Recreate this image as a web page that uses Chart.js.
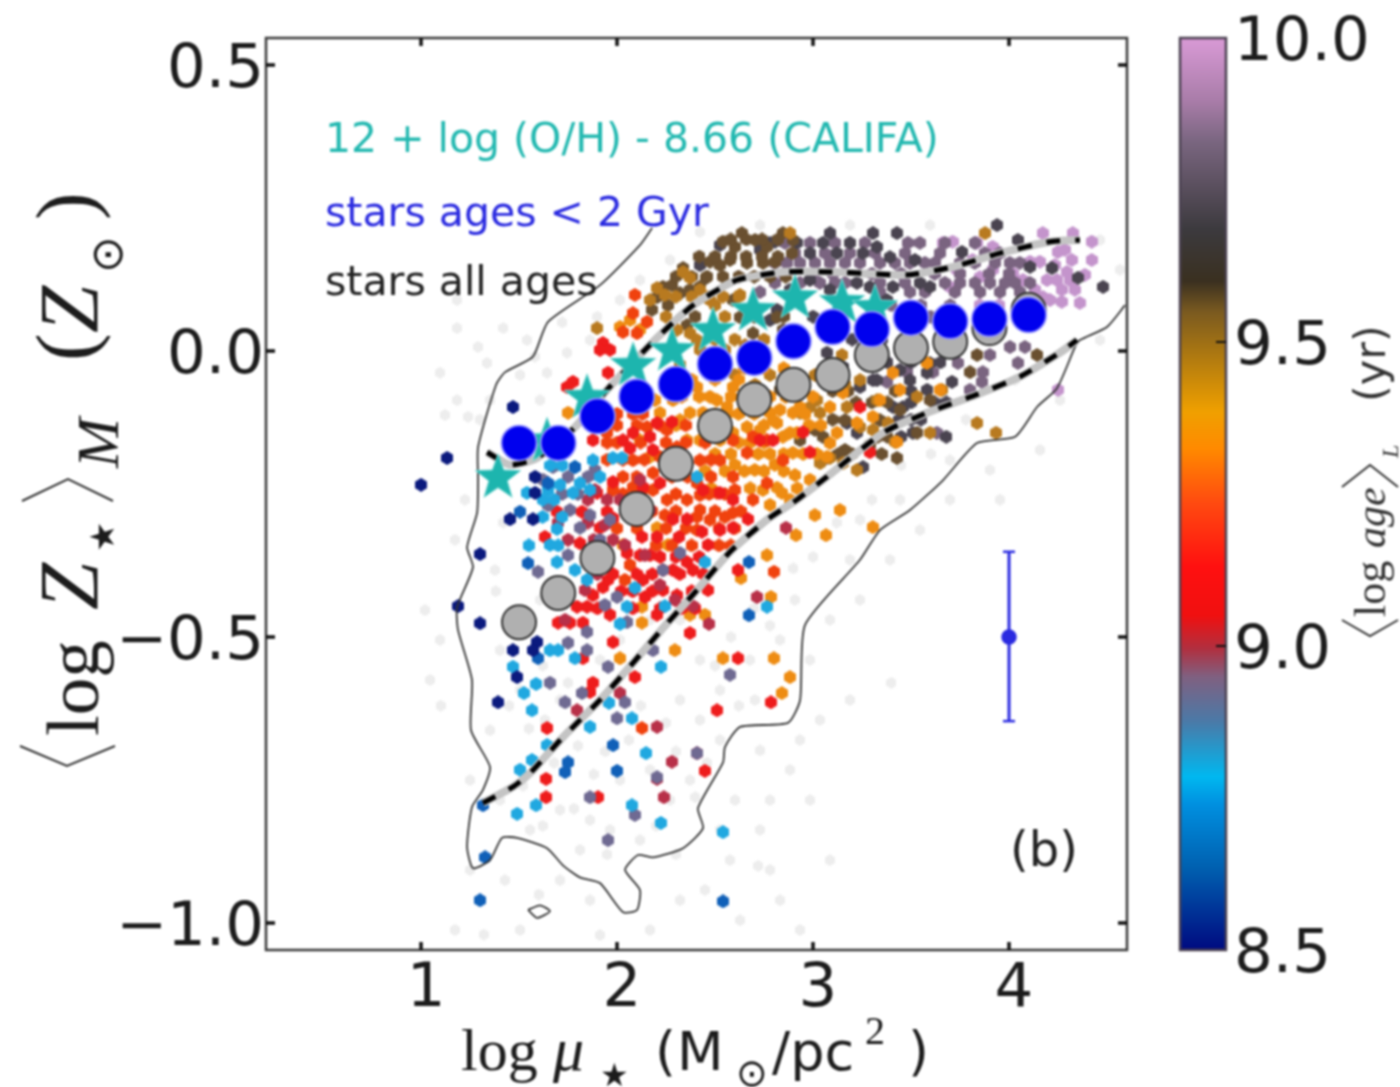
<!DOCTYPE html>
<html><head><meta charset="utf-8">
<style>html,body{margin:0;padding:0;background:#fff}canvas{display:block;filter:blur(0.8px)}</style>
<script src="https://cdn.jsdelivr.net/npm/chart.js@4"></script>
</head><body><canvas id="c" width="1400" height="1087"></canvas>
<script>
const xTicks=[1,2,3,4];
const yTicks=[-1,-0.5,0,0.5];
const ageTicks=[8.5,9,9.5,10];
const ageStops=[10,9.895,9.83,9.685,9.6,9.55,9.475,9.385,9.325,9.235,9.13,9.05,8.995,8.95,8.875,8.785,8.74,8.635,8.5];
const ageStopColors=['#d99ad6','#a87ca8','#7a6680','#3c3a3e','#3a3020','#7a5a20','#b07a10','#f0a000','#ff8a00','#ff4a10','#ff1010','#f01010','#b03040','#806080','#4a7aa8','#00b8f0','#0090e0','#0060b0','#000a80'];

const contourOuter=[[2.179,.215],[2.117,.185],[1.913,.115],[1.648,.051],[1.571,-.01],[1.429,-.037],[1.383,-.059],[1.291,-.168],[1.291,-.226],[1.286,-.283],[1.235,-.343],[1.265,-.378],[1.184,-.448],[1.189,-.488],[1.26,-.575],[1.255,-.663],[1.352,-.727],[1.316,-.767],[1.26,-.797],[1.235,-.867],[1.265,-.904],[1.352,-.89],[1.413,-.851],[1.49,-.851],[1.643,-.869],[1.724,-.899],[1.811,-.92],[1.913,-.93],[2.031,-.981],[2.102,-.977],[2.117,-.942],[2.041,-.907],[2.107,-.881],[2.184,-.885],[2.337,-.869],[2.439,-.834],[2.413,-.799],[2.541,-.719],[2.551,-.692],[2.628,-.657],[2.872,-.65],[2.934,-.61],[2.959,-.479],[3.24,-.365],[3.342,-.313],[3.495,-.278],[3.663,-.226],[3.837,-.161],[4.031,-.15],[4.143,-.098],[4.245,-.065],[4.337,.007],[4.362,.019],[4.5,.042],[4.592,.08]];
const contourIsland=[[1.546,-.977],[1.607,-.969],[1.658,-.979],[1.592,-.991],[1.546,-.977]];
const upperRunning=[[1.337,-.177],[1.454,-.199],[1.592,-.187],[1.786,-.133],[1.949,-.068],[2.031,-.038],[2.204,.023],[2.388,.08],[2.612,.124],[2.847,.138],[3.102,.138],[3.48,.133],[3.714,.147],[3.954,.171],[4.209,.191],[4.362,.194]];
const lowerRunning=[[1.316,-.79],[1.469,-.762],[1.556,-.738],[1.724,-.675],[1.913,-.61],[2.082,-.545],[2.235,-.484],[2.408,-.418],[2.577,-.351],[2.765,-.295],[2.918,-.26],[3.071,-.22],[3.357,-.143],[3.582,-.108],[3.837,-.076],[4.056,-.045],[4.26,-.003],[4.347,.019]];
const binX=[1.5,1.7,1.9,2.1,2.3,2.5,2.7,2.9,3.1,3.3,3.5,3.7,3.9,4.1];
const youngZ=[-.161,-.161,-.114,-.08,-.058,-.023,-.012,.017,.042,.038,.058,.052,.056,.063];
const allAgesZ=[-.474,-.423,-.362,-.276,-.197,-.131,-.085,-.059,-.042,-.007,.005,.016,.04,.072];
const califaX=[1.393,1.643,1.847,2.082,2.281,2.49,2.694,2.908,3.148,3.316];
const califaZ=[-.22,-.156,-.08,-.024,.002,.037,.072,.094,.086,.077];
const errorX=[4,4,4];
const errorY=[-.351,-.5,-.647];

const greyPts=[[1.184,.089],[1.184,.04],[1.291,.007],[1.097,-.038],[1.184,-.086],[1.24,-.115],[1.337,-.021],[1.541,.019],[1.745,-.003],[1.643,-.038],[1.352,-.086],[1.607,-.086],[1.505,-.042],[1.122,-.112],[1.046,-.575],[1.097,-.505],[1.173,-.33],[1.224,-.26],[1.02,-.453],[1.403,-.523],[1.377,-.383],[1.505,-.593],[1.352,-.663],[1.632,-.645],[1.25,-.75],[1.403,-.785],[1.556,-.837],[1.709,-.802],[1.862,-.82],[1.811,-.872],[1.964,-.837],[2.117,-.855],[2.27,-.785],[2.372,-.75],[2.525,-.68],[2.703,-.61],[2.83,-.505],[2.907,-.435],[2.678,-.54],[2.423,-.54],[2.321,-.61],[2.168,-.47],[2.015,-.505],[1.607,-.435],[1.709,-.61],[1.913,-.54],[2.015,-.75],[2.168,-.732],[2.423,-.645],[2.525,-.593],[1.25,-.907],[1.428,-.925],[1.173,-1.012],[1.505,-1.012],[1.709,-.925],[1.862,-.96],[1.913,-1.021],[2.168,-1.012],[2.321,-.96],[2.448,-.942],[2.576,-.89],[2.729,-.837],[2.78,-.785],[2.882,-.732],[2.933,-.68],[3.035,-.645],[3.188,-.61],[2.984,-.54],[3.086,-.47],[3.239,-.435],[3.392,-.365],[3.545,-.313],[3.698,-.26],[3.902,-.208],[3.954,-.26],[4.158,-.173],[4.26,-.086],[4.464,.019],[4.03,-.051],[3.698,-.191],[3.444,-.26],[3.24,-.295],[3.188,-.365],[2.832,-.96],[2.628,-.995],[2.934,-1.012],[3.086,-.89],[2.985,-.785],[2.781,-.907],[2.423,.208],[2.73,.22],[3.189,.22],[3.597,.22],[4.464,.194],[4.566,.142],[2.27,.159],[2.117,.124],[1.862,.019],[2.015,.089],[2.602,-.785],[2.73,-.698],[2.321,-.47],[2.525,-.837],
[1.45,-.62],[1.55,-.66],[1.62,-.55],[1.75,-.58],[1.68,-.72],[1.8,-.69],[1.88,-.74],[1.94,-.7],[2.06,-.68],[2.12,-.62],[2.25,-.65],[2.3,-.7],[2.46,-.72],[2.4,-.78],[2.5,-.55],[2.58,-.5],[2.62,-.62],[2.78,-.48],[2.7,-.45],[2.9,-.38],[3.0,-.36],[3.12,-.3],[3.3,-.26],[3.45,-.2],[3.6,-.18],[3.78,-.12],[1.52,-.76],[1.62,-.83],[1.78,-.8],[1.95,-.88],[2.2,-.83],[2.3,-.88],[1.38,-.42],[1.3,-.12],[1.42,-.3],[1.1,-.62],[1.9,.06],[1.72,.05],[1.42,.04],[1.58,-.01],[3.4,-.58],[2.72,-.9],[1.32,-1.02],[1.6,-.95]];
const navyPts=[[1,-.234],[1.133,-.187],[1.469,-.098],[1.582,-.22],[1.582,-.248],[1.454,-.294],[1.571,-.294],[1.301,-.355],[1.189,-.446],[1.301,-.476],[1.469,-.523],[1.49,-.57],[1.393,-.614],[1.592,-.509],[1.571,-.523]];
const bluePts=[[1.505,-.281],[1.546,-.371],[1.597,-.537],[1.75,-.719],[1.735,-.736],[2,-.734],[1.98,-.689],[1.316,-.794],[1.327,-.885],[1.301,-.96],[2.541,-.962],[2.673,-.369],[2.673,-.462],[1.785,-.203],[1.648,-.231]];
const cyanPts=[[1.54,-.248],[1.71,-.234],[1.785,-.203],[1.877,-.191],[1.913,-.22],[1.811,-.231],[1.862,-.243],[1.979,-.187],[2.025,-.187],[2.408,-.22],[1.648,-.243],[1.775,-.248],[1.694,-.311],[1.658,-.339],[1.694,-.369],[1.785,-.383],[1.847,-.4],[2.091,-.414],[2.244,-.446],[2.051,-.447],[2.015,-.477],[1.658,-.523],[1.699,-.523],[1.785,-.537],[1.469,-.552],[1.587,-.582],[1.525,-.598],[1.566,-.628],[1.959,-.615],[2.076,-.642],[1.862,-.657],[2.148,-.703],[2.224,-.552],[2.449,-.369],[2.765,-.447],[1.505,-.732],[1.566,-.715],[1.643,-.689],[1.49,-.809],[1.587,-.794],[2.224,-.825],[2.076,-.794],[2.541,-.841],[1.72,-.2],[1.66,-.2],[1.62,-.26],[1.68,-.26],[1.62,-.29],[1.72,-.29],[1.55,-.34],[1.7,-.34]];
const slatePts=[[1.597,-.386],[1.75,-.357],[1.735,-.614],[1.658,-.58],[1.847,-.491],[1.75,-.51],[1.847,-.523],[1.954,-.552],[2,-.43],[1.938,-.444],[2.051,-.474],[2.234,-.383],[2.321,-.353],[2.204,-.745],[1.821,-.598],[2.04,-.614],[2,-.642],[2.183,-.523],[2.408,-.703],[2.576,-.566],[2.091,-.811],[1.954,-.855],[1.862,-.78],[1.673,-.203],[1.622,-.225],[1.887,-.208],[1.76,-.278],[1.862,-.287],[1.964,-.295],[1.913,-.33],[1.811,-.309],[1.75,-.22],[1.85,-.22],[1.72,-.25],[1.8,-.25],[1.65,-.27]];
const crimsonPts=[[2.862,-.309],[2.714,-.43],[2.469,-.477],[2.387,-.446],[1.796,-.628],[2.204,-.657],[2.408,-.703],[2.28,-.718],[2.015,-.598],[2.239,-.78],[2.204,-.748],[1.735,-.47],[1.836,-.418],[1.938,-.304],[2.04,-.339],[2.142,-.357],[2.219,-.409],[2.295,-.435],[1.887,-.243],[2.117,-.225],[2.015,-.26],[2.168,-.278],[1.85,-.26],[1.95,-.26],[1.7,-.3],[1.85,-.3],[1.75,-.33],[1.88,-.33],[1.98,-.33],[1.85,-.36],[1.9,-.39]];
const redPts=[[1.699,-.475],[1.76,-.475],[1.826,-.475],[1.979,-.509],[1.826,-.537],[1.877,-.58],[1.862,-.596],[2.091,-.57],[1.643,-.659],[2.51,-.628],[2.617,-.537],[2.785,-.614],[2.372,-.493],[2.204,-.461],[2.142,-.43],[1.964,-.461],[1.796,-.447],[1.847,-.447],[1.877,-.427],[1.928,-.413],[1.954,-.4],[2.132,-.4],[2.234,-.383],[2.285,-.383],[2.357,-.369],[2.387,-.383],[2.306,-.427],[2.234,-.418],[2.464,-.418],[2.051,-.353],[2.117,-.357],[2.168,-.357],[2.127,-.325],[2.204,-.325],[2.316,-.325],[1.913,-.309],[1.949,-.281],[1.694,-.281],[1.821,-.281],[1.632,-.325],[1.811,-.336],[2.617,-.383],[2.433,-.316],[2.464,-.339],[2.525,-.313],[2.285,-.294],[2.357,-.294],[2.668,-.294],[2.591,-.309],[2.591,-.26],[1.979,-.292],[1.898,-.248],[1.638,-.748],[1.638,-.78],[1.903,-.78],[2.448,-.734],[1.928,.014],[1.913,.002],[1.964,.002],[1.775,-.054],[1.745,-.063],[1.954,-.038],[1.877,-.156],[2.03,-.156],[2.081,-.143],[2.204,-.126],[2.28,-.124],[2.168,-.15],[2.183,-.173],[2.066,-.17],[1.979,-.229],[2.219,-.231],[2.132,-.238],[2.438,-.243],[2.525,-.248],[2.729,-.156],[2.795,-.156],[2.948,-.142],[2.984,-.177],[3.29,-.177],[3.239,-.098],[1.95,-.36],[2.22,-.36],[2.3,-.36],[2.42,-.36],[1.98,-.39],[2.1,-.39],[2.18,-.39],[2.32,-.39],[2.44,-.39],[2.02,-.42],[2.08,-.42],[2.18,-.42],[2.38,-.42],[1.9,-.45],[2.08,-.45],[2.22,-.45],[2.33,-.45],[2.4,-.45]];
const redOrangePts=[[2.04,-.4],[2.066,-.374],[2.127,-.659],[2.408,-.29],[2.408,-.313],[2.474,-.295],[2.55,-.29],[2.591,-.283],[2.693,-.26],[2.51,-.248],[2.357,-.26],[2.423,-.252],[2.255,-.26],[2.183,-.243],[2.081,-.238],[1.979,-.243],[2.801,-.386],[2.081,.066],[2.03,.033],[2.102,.031],[2.153,.051],[2.091,.098],[2.081,-.191],[2.153,-.133],[2.255,-.138],[2.306,-.168],[2.219,-.185],[1.949,-.143],[2.423,-.191],[2.591,-.156],[2.693,-.15],[2.765,-.156],[2.525,-.191],[2.663,-.178],[2.846,-.191],[2.408,-.231],[2.591,-.22],[2.765,-.231],[2.321,-.213],[2.183,-.213],[2.117,-.269],[2.244,-.287],[2.423,-.278],[2.602,-.243],[2,-.11],[2.08,-.11],[2.13,-.11],[2,-.13],[2.1,-.13],[2.22,-.13],[2.35,-.13],[1.95,-.16],[2,-.16],[2.12,-.16],[2.25,-.16],[2.35,-.16],[2.45,-.16],[1.95,-.19],[2.03,-.19],[2.14,-.19],[2.27,-.19],[2.35,-.19],[2.48,-.19],[2.03,-.22],[2.1,-.22],[2.28,-.22],[2.36,-.22],[2.48,-.22],[2.03,-.25],[2.12,-.25],[2.3,-.25],[2.47,-.25],[2.55,-.25],[2.08,-.28],[2.18,-.28],[2.3,-.28],[2.5,-.28],[2.63,-.28],[2,-.31],[2.1,-.31],[2.25,-.31],[2.35,-.31],[2.52,-.31],[2.6,-.31],[2.2,-.34],[2.28,-.34],[2.38,-.34],[2.52,-.34],[2.58,-.34]];
const orangePts=[[2.408,-.063],[2.474,-.08],[2.591,-.063],[2.51,-.086],[2.561,-.098],[2.78,-.108],[2.897,-.108],[2.816,-.126],[2.663,-.133],[2.591,-.143],[2.729,-.138],[2.372,-.108],[2.438,-.108],[2.525,-.156],[2.846,-.15],[2.918,-.143],[2.168,-.185],[2.357,-.156],[2.423,-.156],[2.285,-.086],[2.219,-.108],[1.75,-.108],[2.066,.054],[2.015,.042],[2.117,.037],[2.831,-.103],[2.795,-.121],[2.882,-.143],[3.122,-.143],[3.086,-.161],[3.071,-.185],[3.443,-.068],[3.647,-.068],[3.428,-.159],[3.581,-.021],[3.407,-.038],[3.341,-.086],[3.305,-.115],[3.224,-.126],[2.999,-.08],[2.933,-.098],[3.153,-.073],[3.086,-.098],[2.897,-.178],[2.765,-.357],[2.632,-.397],[2.54,-.537],[2.8,-.537],[2.882,-.57],[2.841,-.598],[2.295,-.523],[2.127,-.475],[2.015,-.537],[2.448,-.461],[2.372,-.461],[2.785,-.43],[2.26,-.339],[2.204,-.309],[2.03,-.339],[2.127,-.447],[2.816,-.239],[2.841,-.248],[2.744,-.243],[3.305,-.308],[2.913,-.322],[3.066,-.322],[3.009,-.287],[3.137,-.278],[2.65,-.086],[2.703,-.208],[2.805,-.199],[2.908,-.217],[2.984,-.225],[2.882,-.26],[2.78,-.269],[2.321,-.121],[2.117,-.156],[2.194,-.086],[2.601,-.199],[2.45,-.03],[2.53,-.03],[2.65,-.03],[2.75,-.03],[2.85,-.03],[2.38,-.05],[2.5,-.05],[2.62,-.05],[2.33,-.08],[2.42,-.08],[2.58,-.08],[2.7,-.08],[2.78,-.08],[2.86,-.08],[2.5,-.11],[2.56,-.11],[2.62,-.11],[2.7,-.11],[2.96,-.11],[2.3,-.13],[2.45,-.13],[2.55,-.13],[2.75,-.13],[2.98,-.13],[3.04,-.13],[2.62,-.16],[2.68,-.16],[2.75,-.16],[2.5,-.18],[2.58,-.18],[2.72,-.18],[2.78,-.18],[2.85,-.18],[2.95,-.18],[3.02,-.18],[2.45,-.21],[2.55,-.21],[2.65,-.21],[2.75,-.21],[2.85,-.21],[2.48,-.24],[2.68,-.24],[2.92,-.24]];
const ochrePts=[[1.898,.04],[2.204,.11],[2.337,.138],[2.372,.128],[2.306,.037],[2.372,.031],[2.408,.019],[2.168,.089],[2.244,.098],[2.423,.107],[2.474,.089],[2.883,.206],[3.878,.206],[3.837,-.126],[3.934,-.143],[3.658,-.068],[3.531,-.08],[3.327,-.086],[3.036,-.108],[3.173,-.098],[3.24,-.133],[3.306,-.138],[3.383,-.126],[3.597,-.143],[3.418,-.159],[3.148,-.007],[3.02,-.086],[2.934,-.108],[2.985,-.098],[3.036,-.196],[3.086,-.187],[3.224,-.208],[3.153,-.196],[2.551,.002],[2.653,.01],[2.78,-.042],[2.856,-.051],[2.601,-.042],[2.704,-.059],[2.423,.002],[2.321,-.024],[2.5,.08],[2.627,.098],[2.934,-.059],[3.01,-.042],[3.24,-.051],[3.163,-.059],[2.3,.095],[2.38,.095],[2.46,.095],[2.54,.095],[2.62,.095],[2.25,.06],[2.55,.06],[2.5,.02],[2.6,.02],[2.75,.02]];
const brownPts=[[2.234,.112],[2.337,.145],[2.474,.156],[2.54,.191],[2.637,.206],[2.576,.159],[2.663,.154],[2.423,.112],[2.321,.101],[2.204,.094],[2.357,.045],[2.591,.089],[2.627,.059],[2.816,.059],[2.846,.037],[2.694,.031],[2.846,.206],[2.765,.182],[2.898,.194],[2.745,.154],[2.893,.171],[2.525,.15],[2.602,.182],[2.704,.194],[2.806,.156],[2.281,.115],[2.372,.107],[2.454,.128],[2.178,.072],[2.26,.08],[3.837,-.007],[3.801,-.037],[4.143,-.007],[3.428,-.187],[3.531,-.143],[2.934,-.156],[3.01,-.138],[3.291,-.164],[3.163,-.173],[2.832,-.068],[3.163,-.121],[3.443,-.103],[3.342,-.121],[3.597,-.086],[2.3,.13],[2.38,.13],[2.46,.13],[2.54,.13],[2.62,.13],[2.7,.13],[2.78,.13],[2.86,.13],[2.42,.165],[2.5,.165],[2.58,.165],[2.66,.165],[2.74,.165],[2.82,.165],[2.58,.195],[2.66,.195],[2.74,.195],[2.82,.195],[2.4,.06],[2.7,.06],[2.85,.06],[2.95,.02],[3.1,-.07],[3.18,-.07],[3.42,-.07],[3.22,-.09],[3.3,-.09],[3.38,-.09],[3.1,-.12],[3.05,-.15],[3.33,-.15],[3.38,-.15],[3.13,-.18],[3.2,-.18],[3.35,-.18]];
const charcoalPts=[[3.939,.22],[3.306,.206],[3.087,.206],[2.806,.191],[3.52,.159],[3.76,.173],[4.107,.147],[4.219,.145],[4.48,.112],[4.352,.128],[3.709,-.054],[3.582,-.068],[3.459,-.098],[3.408,-.098],[3.596,-.021],[3.306,-.051],[3.24,-.063],[3.173,-.126],[3.224,-.143],[3.509,-.143],[3.255,-.203],[3.071,-.187],[4.045,.194],[2.78,.189],[2.918,.189],[2.985,.171],[3.05,.189],[3.122,.171],[3.188,.189],[3.254,.171],[3.326,.182],[3.392,.164],[3.428,.206],[2.816,.072],[2.78,.054],[3.224,.119],[3.29,.112],[3.407,.112],[3.545,.119],[3.596,.112],[3.377,.089],[3.071,-.003],[3.153,-.028],[3.326,-.051],[3.443,-.033],[3.494,-.051],[3.581,-.038],[2.729,.177],[2.525,.185],[2.423,.15],[2.882,.107],[2.984,.124],[3.086,.107],[3,.06],[3.15,.06],[3.3,.06],[3.2,.02],[3.35,.02],[3.3,-.02],[3.38,-.02],[3.5,-.02],[3.65,-.02],[3.5,-.07],[3.5,-.09],[3.62,-.09],[3.68,-.09],[3.44,-.12],[3.5,-.12],[3.55,-.12],[3.45,-.15],[3.68,-.15]];
const mauvePts=[[2.856,.189],[2.984,.189],[3.112,.189],[3.264,.189],[3.484,.189],[3.545,.189],[3.673,.189],[3.825,.189],[2.908,.171],[3.06,.171],[3.188,.171],[3.316,.171],[3.469,.171],[3.647,.171],[3.876,.171],[3.953,.171],[2.805,.154],[2.867,.154],[2.933,.154],[3.01,.154],[3.086,.154],[3.163,.154],[3.239,.154],[3.341,.154],[3.418,.154],[3.494,.154],[3.571,.154],[3.622,.154],[3.749,.154],[3.825,.154],[3.928,.154],[4.004,.154],[4.055,.154],[2.805,.119],[2.933,.119],[3.035,.119],[3.112,.119],[3.163,.119],[3.341,.119],[3.469,.119],[3.673,.119],[3.749,.119],[3.825,.119],[3.902,.119],[3.98,.119],[4.03,.119],[4.107,.119],[3.724,.103],[3.852,.103],[3.954,.103],[4.056,.103],[3.494,.103],[3.571,.103],[3.341,.103],[2.729,.103],[4.005,.007],[4.081,.007],[4.045,-.021],[3.902,-.007],[3.739,-.021],[3.611,-.037],[3.866,-.037],[3.861,-.054],[3.8,-.068],[3.377,-.054],[3.479,-.037],[3.632,-.143],[2.85,.135],[3,.135],[3.1,.135],[3.3,.135],[3.45,.135],[3.62,.135],[3.75,.135],[3.9,.135],[4,.135],[3.45,.06],[3.6,.06],[3.75,.06],[3.4,.08],[3.55,.08],[3.7,.08]];
const lilacPts=[[4.172,.206],[4.325,.206],[4.422,.191],[4.422,.159],[4.249,.173],[4.32,.159],[4.295,.138],[4.244,.124],[4.31,.124],[4.269,.107],[4.269,.086],[4.361,.084],[3.835,.189],[3.661,.189],[3.712,.191],[3.814,.159],[3.916,.182],[4.019,.136],[4.071,.124],[4.194,.124],[4.173,.094],[3.917,.142],[3.851,.129],[3.733,.142],[3.698,.112],[4.25,-.068],[4.107,.156],[4.157,.156],[4.234,.15],[4.133,.107],[4.209,.089],[4.336,.107],[4.387,.133],[4.284,.177],[3.85,.08],[3.95,.08],[4.1,.08]];

const toXY=a=>a.map(p=>({x:p[0],y:p[1]}));
const zipXY=(xs,ys)=>xs.map((x,i)=>({x,y:ys[i]}));
function marker(color,w,h){const c=document.createElement('canvas');c.width=w;c.height=h;const g=c.getContext('2d');
 g.beginPath();g.moveTo(w/2,0);g.lineTo(w,h*.27);g.lineTo(w,h*.73);g.lineTo(w/2,h);g.lineTo(0,h*.73);g.lineTo(0,h*.27);g.closePath();g.fillStyle=color;g.fill();return c;}
const hex=(data,color,order,w,h)=>({data:toXY(data),pointStyle:marker(color,w||12,h||14),pointRadius:6,pointHoverRadius:6,order});
const line=(data,color,width,dash,order)=>({data:toXY(data),showLine:true,pointRadius:0,borderColor:color,borderWidth:width,borderDash:dash||[],fill:false,tension:0.2,order});

const starImg=document.createElement('canvas');starImg.width=starImg.height=50;
(function(){const g=starImg.getContext('2d');g.beginPath();
for(let i=0;i<10;i++){const r=i%2?9.8:24,a=-Math.PI/2+i*Math.PI/5;g.lineTo(25+r*Math.cos(a),26+r*Math.sin(a));}
g.closePath();g.fillStyle='#1db5ae';g.fill();g.strokeStyle='#7fd8d4';g.lineWidth=1;g.stroke();})();

const INK='#1c1c1c';
function angle(ctx,a,b,c){ctx.beginPath();ctx.moveTo(a[0],a[1]);ctx.lineTo(b[0],b[1]);ctx.lineTo(c[0],c[1]);ctx.strokeStyle='#333';ctx.lineWidth=2;ctx.stroke();}
function vtext(ctx,t,font,x,y){ctx.save();ctx.translate(x,y);ctx.rotate(-Math.PI/2);ctx.font=font;ctx.textAlign='left';ctx.textBaseline='alphabetic';ctx.fillText(t,0,0);ctx.restore();}
function htext(ctx,t,font,x,y){ctx.font=font;ctx.textAlign='left';ctx.textBaseline='alphabetic';ctx.fillText(t,x,y);}

const decor={id:'decor',
 beforeDraw(chart){
  const ctx=chart.ctx,age=chart.scales.age;
  const g=ctx.createLinearGradient(0,age.getPixelForValue(10),0,age.getPixelForValue(8.5));
  ageStops.forEach((v,i)=>g.addColorStop((10-v)/1.5,ageStopColors[i]));
  const top=age.getPixelForValue(10),bot=age.getPixelForValue(8.5);
  ctx.fillStyle=g;ctx.fillRect(1180,top,46,bot-top);
  ctx.strokeStyle='#4a4050';ctx.lineWidth=2.5;ctx.strokeRect(1180,top,46,bot-top);
  ctx.strokeStyle='#111';ctx.lineWidth=2;
  ageTicks.slice(1,3).forEach(v=>{const y=age.getPixelForValue(v);ctx.beginPath();ctx.moveTo(1216,y);ctx.lineTo(1226,y);ctx.stroke();});
 },
 afterDraw(chart){
  const ctx=chart.ctx,a=chart.chartArea,sx=chart.scales.x,sy=chart.scales.y;
  ctx.save();
  ctx.strokeStyle='#3a3a3a';ctx.lineWidth=2.5;ctx.strokeRect(a.left,a.top,a.right-a.left,a.bottom-a.top);
  ctx.strokeStyle='#111';ctx.lineWidth=3.5;ctx.beginPath();
  xTicks.forEach(v=>{const x=sx.getPixelForValue(v);ctx.moveTo(x,a.top);ctx.lineTo(x,a.top+8);ctx.moveTo(x,a.bottom);ctx.lineTo(x,a.bottom-8);});
  yTicks.forEach(v=>{const y=sy.getPixelForValue(v);ctx.moveTo(a.left,y);ctx.lineTo(a.left+9,y);ctx.moveTo(a.right,y);ctx.lineTo(a.right-9,y);});
  ctx.stroke();
  const inner='41px "DejaVu Sans"';
  ctx.fillStyle='#22b8b0';htext(ctx,'12 + log (O/H) - 8.66 (CALIFA)',inner,325,152);
  ctx.fillStyle='#2a2ae0';htext(ctx,'stars ages < 2 Gyr',inner,325,226);
  ctx.fillStyle='#222';htext(ctx,'stars all ages',inner,325,295);
  htext(ctx,'(b)','48px "DejaVu Sans"',1010,866);
  ctx.fillStyle=INK;
  const serif='"Liberation Serif"';
  angle(ctx,[20,746],[67,766],[115,746]);
  vtext(ctx,'log','75px '+serif,98,736);
  vtext(ctx,'Z','italic 85px '+serif,98,610);
  vtext(ctx,'★','34px "DejaVu Sans"',114,552);
  angle(ctx,[22,501],[68,479],[113,501]);
  vtext(ctx,'M','italic 60px '+serif,118,468);
  vtext(ctx,'(','83px '+serif,93,361);
  vtext(ctx,'Z','italic 85px '+serif,98,333);
  vtext(ctx,'⊙','44px "DejaVu Sans"',122,273);
  vtext(ctx,')','83px '+serif,93,220);
  htext(ctx,'log','60px '+serif,461,1070);
  htext(ctx,'μ','italic 62px '+serif,553,1070);
  htext(ctx,'★','32px "DejaVu Sans"',600,1086);
  htext(ctx,'(','54px "DejaVu Sans"',655,1070);
  htext(ctx,'M','54px "DejaVu Sans"',677,1070);
  htext(ctx,'⊙','38px "DejaVu Sans"',736,1086);
  htext(ctx,'/pc','54px "DejaVu Sans"',772,1070);
  htext(ctx,'2','40px '+serif,865,1044);
  htext(ctx,')','54px "DejaVu Sans"',908,1070);
  ctx.fillStyle='#333';
  angle(ctx,[1342,620],[1370,636],[1398,620]);
  vtext(ctx,'log','44px '+serif,1385,617);
  vtext(ctx,'age','italic 42px '+serif,1385,548);
  angle(ctx,[1342,487],[1370,465],[1398,487]);
  vtext(ctx,'L','italic 24px '+serif,1398,458);
  vtext(ctx,'(yr)','43px "DejaVu Sans"',1385,402);
  ctx.restore();
 }};

const tickFont={family:'"DejaVu Sans"',size:61};
new Chart(document.getElementById('c'),{
 type:'scatter',
 data:{datasets:[
  hex(greyPts,'#ededed',40,10,12),
  hex(navyPts,'#0b1a7e',20),hex(bluePts,'#1060b8',21),hex(cyanPts,'#20a8e0',22),hex(slatePts,'#6f6a92',23),
  hex(crimsonPts,'#b83048',24),hex(redPts,'#ee1c1c',25),hex(redOrangePts,'#f0420e',26),hex(orangePts,'#ee8c12',27),
  hex(ochrePts,'#b87a20',28),hex(brownPts,'#6a5030',29),hex(charcoalPts,'#4a4450',30),hex(mauvePts,'#7a6480',31),hex(lilacPts,'#c494cc',32),
  line(contourOuter,'#333',1.8,null,15),line(contourIsland,'#333',1.8,null,15),
  line(upperRunning,'#c4c4c4',8,null,12),line(upperRunning,'#000',5,[14,15],11),
  line(lowerRunning,'#c4c4c4',8,null,12),line(lowerRunning,'#000',5,[14,15],11),
  {data:zipXY(califaX,califaZ),pointStyle:starImg,pointRadius:25,pointHoverRadius:25,order:9},
  {data:zipXY(binX,allAgesZ),backgroundColor:'#b0b0b0',borderColor:'#333',borderWidth:2,pointRadius:17,pointHoverRadius:17,order:8},
  {data:zipXY(binX,youngZ),backgroundColor:'#0000ee',borderColor:'#8c8cff',borderWidth:1.8,pointRadius:17.5,pointHoverRadius:17.5,order:7},
  {data:zipXY(errorX,errorY),showLine:true,borderColor:'#2a2ae0',borderWidth:3,backgroundColor:'#2a2ae0',pointBorderColor:'#2a2ae0',pointBorderWidth:2.5,pointStyle:['line','circle','line'],pointRadius:[6,6.5,6],order:6}
 ]},
 options:{
  responsive:false,animation:false,
  layout:{padding:{top:38,left:0,right:0,bottom:0}},
  plugins:{legend:{display:false},tooltip:{enabled:false}},
  scales:{
   x:{type:'linear',min:.209,max:4.602,grid:{display:false},border:{display:false},
      afterFit(s){s.height=137},afterBuildTicks(s){s.ticks=xTicks.map(v=>({value:v}))},
      ticks:{font:tickFont,color:INK,padding:-4,labelOffset:5,maxRotation:0,callback:v=>String(v)}},
   y:{type:'linear',min:-1.047,max:.547,grid:{display:false},border:{display:false},
      afterFit(s){s.width=266},afterBuildTicks(s){s.ticks=yTicks.map(v=>({value:v}))},
      ticks:{font:tickFont,color:INK,padding:-6,labelOffset:6,callback:v=>v.toFixed(1).replace('-','−')}},
   age:{axis:'y',type:'linear',position:'right',min:8.5,max:10,border:{display:false},
      grid:{display:true,drawOnChartArea:false,drawTicks:true,tickLength:107,tickColor:'rgba(0,0,0,0)',color:'rgba(0,0,0,0)'},
      afterFit(s){s.width=273},afterBuildTicks(s){s.ticks=ageTicks.map(v=>({value:v}))},
      ticks:{font:tickFont,color:INK,padding:0,labelOffset:6,callback:v=>v.toFixed(1)}}
  }
 },
 plugins:[decor]
});
</script></body></html>
